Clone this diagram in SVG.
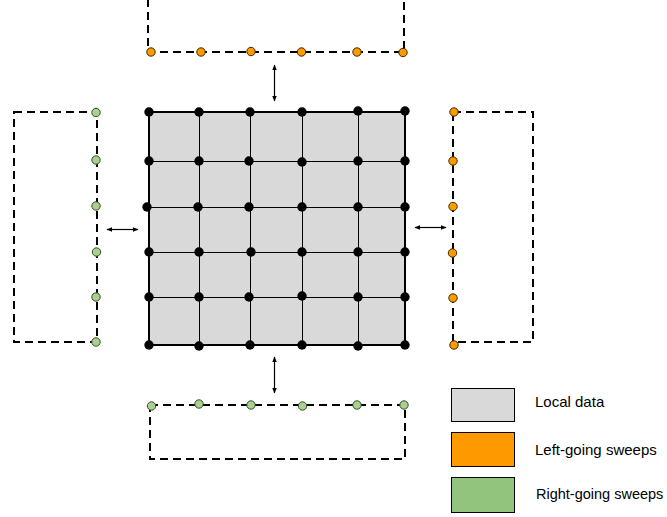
<svg xmlns="http://www.w3.org/2000/svg" width="667" height="517" viewBox="0 0 667 517">
<defs>
<style>
.dash{fill:none;stroke:#000;stroke-width:2;stroke-dasharray:8 5}
.grid{stroke:#000;stroke-width:1;fill:none}
.outer{fill:#d9d9d9;stroke:#000;stroke-width:2}
.bk{fill:#000}
.or{fill:#ff9900;stroke:#3a2a00;stroke-width:1}
.gr{fill:#a9d18e;stroke:#3a4a30;stroke-width:1}
.arr{stroke:#000;stroke-width:1.2;fill:none;marker-start:url(#ah);marker-end:url(#ah)}
.lbl{font-family:"Liberation Sans",Arial,sans-serif;font-size:15px;fill:#000}
</style>
<marker id="ah" viewBox="0 0 10 10" refX="9" refY="5" markerWidth="5" markerHeight="5" orient="auto-start-reverse">
<path d="M0,1 L10,5 L0,9 Z" fill="#000"/>
</marker>
</defs>
<rect width="667" height="517" fill="#fff"/>

<g id="local-grid">
<rect class="outer" x="149" y="112" width="256" height="233"/>
<path class="grid" d="M149,161.5 H405 M147,207.5 H405 M149,252.5 H405 M149,297.5 H405 M199.5,112 V345 M250.5,112 V345 M302.5,112 V345 M358.5,112 V345"/>
<g class="bk">
<circle cx="149" cy="112" r="4.7"/><circle cx="199" cy="112" r="4.7"/><circle cx="250" cy="112" r="4.7"/><circle cx="302" cy="112" r="4.7"/><circle cx="358" cy="111" r="4.7"/><circle cx="405" cy="111" r="4.7"/>
<circle cx="149" cy="161" r="4.7"/><circle cx="199" cy="161" r="4.7"/><circle cx="249" cy="161" r="4.7"/><circle cx="302" cy="162" r="4.7"/><circle cx="358" cy="161" r="4.7"/><circle cx="405" cy="161" r="4.7"/>
<circle cx="147" cy="207" r="4.7"/><circle cx="198" cy="207" r="4.7"/><circle cx="249" cy="207" r="4.7"/><circle cx="302" cy="207" r="4.7"/><circle cx="358" cy="207" r="4.7"/><circle cx="405" cy="207" r="4.7"/>
<circle cx="149" cy="252" r="4.7"/><circle cx="199" cy="252" r="4.7"/><circle cx="251" cy="252" r="4.7"/><circle cx="302" cy="252" r="4.7"/><circle cx="358" cy="252" r="4.7"/><circle cx="405" cy="252" r="4.7"/>
<circle cx="149" cy="297" r="4.7"/><circle cx="199" cy="297" r="4.7"/><circle cx="249" cy="297" r="4.7"/><circle cx="302" cy="296" r="4.7"/><circle cx="358" cy="297" r="4.7"/><circle cx="405" cy="297" r="4.7"/>
<circle cx="149" cy="345" r="4.7"/><circle cx="199" cy="346" r="4.7"/><circle cx="250" cy="345" r="4.7"/><circle cx="302" cy="345" r="4.7"/><circle cx="358" cy="346" r="4.7"/><circle cx="405" cy="345" r="4.7"/>
</g>
</g>

<g id="top-halo">
<rect class="dash" x="148" y="-2" width="256" height="54"/>
<circle class="or" cx="151" cy="52" r="4.2"/><circle class="or" cx="201" cy="52" r="4.2"/><circle class="or" cx="251" cy="51.5" r="4.2"/><circle class="or" cx="301.5" cy="52" r="4.2"/><circle class="or" cx="357" cy="52" r="4.2"/><circle class="or" cx="403" cy="52.5" r="4.2"/>
</g>

<g id="left-halo">
<rect class="dash" x="14" y="112" width="83" height="230"/>
<circle class="gr" cx="96" cy="112.5" r="4.2"/><circle class="gr" cx="96" cy="160" r="4.2"/><circle class="gr" cx="96" cy="206" r="4.2"/><circle class="gr" cx="96.5" cy="252" r="4.2"/><circle class="gr" cx="96" cy="297" r="4.2"/><circle class="gr" cx="96" cy="342" r="4.2"/>
</g>

<g id="right-halo">
<rect class="dash" x="453" y="112" width="80" height="230"/>
<circle class="or" cx="454" cy="112" r="4.2"/><circle class="or" cx="453" cy="161" r="4.2"/><circle class="or" cx="453" cy="206.5" r="4.2"/><circle class="or" cx="452.5" cy="253" r="4.2"/><circle class="or" cx="453" cy="298" r="4.2"/><circle class="or" cx="454" cy="345" r="4.2"/>
</g>

<g id="bottom-halo">
<rect class="dash" x="150" y="405" width="255" height="54"/>
<circle class="gr" cx="151.5" cy="406" r="4.2"/><circle class="gr" cx="199" cy="404" r="4.2"/><circle class="gr" cx="251" cy="405" r="4.2"/><circle class="gr" cx="302.5" cy="406" r="4.2"/><circle class="gr" cx="357" cy="405" r="4.2"/><circle class="gr" cx="404" cy="405" r="4.2"/>
</g>

<g id="connectors">
<line class="arr" x1="274.5" y1="65" x2="274.5" y2="101"/>
<line class="arr" x1="274.5" y1="357" x2="274.5" y2="393"/>
<line class="arr" x1="107" y1="229.5" x2="138" y2="229.5"/>
<line class="arr" x1="415" y1="227.5" x2="446" y2="227.5"/>
</g>

<g id="legend">
<g id="legend-local"><rect x="451.5" y="388.5" width="63" height="33" fill="#d9d9d9" stroke="#000" stroke-width="1"/><text class="lbl" x="535" y="407">Local data</text></g>
<g id="legend-left"><rect x="451.5" y="432.5" width="63" height="34" fill="#ff9900" stroke="#000" stroke-width="1"/><text class="lbl" x="535" y="455">Left-going sweeps</text></g>
<g id="legend-right"><rect x="451.5" y="477.5" width="63" height="35" fill="#93c47d" stroke="#000" stroke-width="1"/><text class="lbl" x="536" y="499" style="font-size:14.5px">Right-going sweeps</text></g>
</g>
</svg>
